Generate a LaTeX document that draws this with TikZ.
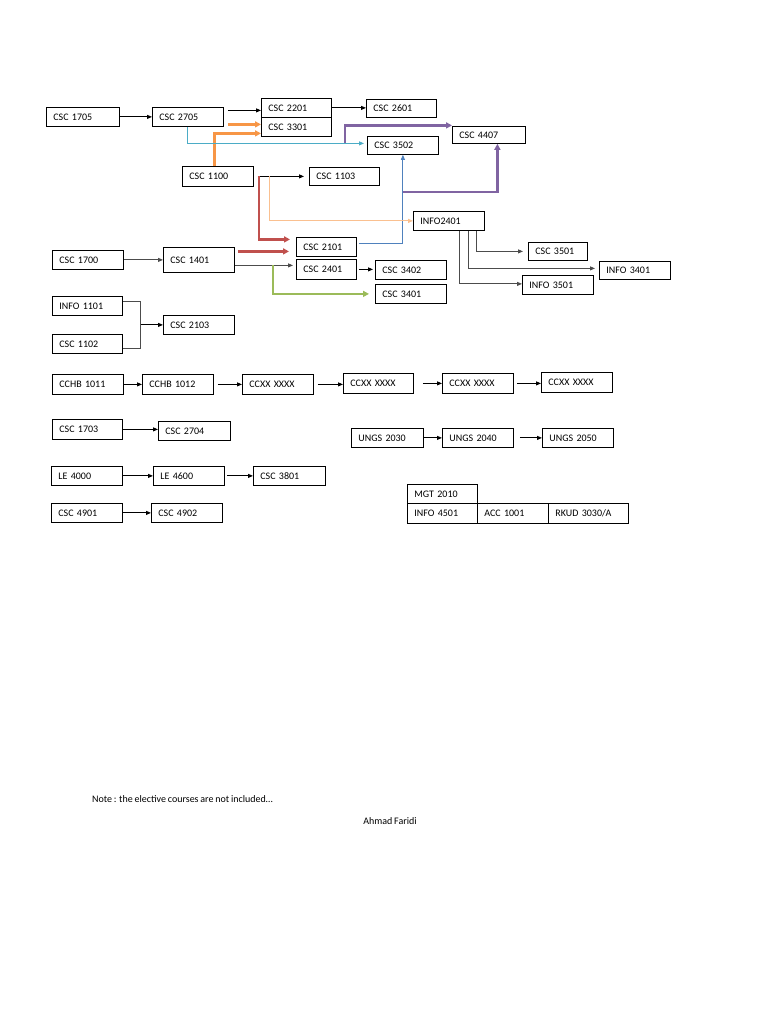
\documentclass[tikz,border=0pt]{standalone}
\usepackage{fontspec}
\setmainfont[WordSpace=0.8]{Carlito}
\usetikzlibrary{arrows.meta}
\definecolor{Orng}{HTML}{F79646}
\definecolor{Aqua}{HTML}{4BACC6}
\definecolor{Purp}{HTML}{8064A2}
\definecolor{Blu}{HTML}{4F81BD}
\definecolor{Rd}{HTML}{C0504D}
\definecolor{Peach}{HTML}{FAC090}
\definecolor{Grn}{HTML}{9BBB59}

\tikzset{
  course/.style={draw, line width=0.8pt, anchor=north west, inner xsep=7pt, inner ysep=0pt,
    minimum height=19pt, text width=57pt, font=\fontsize{10}{11}\selectfont},
  link/.style={line width=0.9pt, -{Triangle[length=5pt,width=4pt]}},
  glink/.style={link, gray!60!black},
  fat/.style={line width=2.4pt, -{Triangle[length=6pt,width=6pt]}},
}

\begin{document}
\begin{tikzpicture}[x=1pt,y=-1pt]
  \useasboundingbox (0,0) rectangle (768,1024);
  % courses
  \node[course,text width=59pt] (c1705) at (46,107) {CSC 1705};
  \node[course] (c2705) at (152,107) {CSC 2705};
  \node[course,text width=56pt] (c2201) at (261,98) {CSC 2201};
  \node[course,text width=56pt] (c3301) at (261,117) {CSC 3301};
  \node[course,text width=56pt,minimum height=18pt] (c2601) at (366,99) {CSC 2601};
  \node[course,text width=59pt,minimum height=17pt] (c4407) at (452,126) {CSC 4407};
  \node[course,minimum height=18pt] (c3502) at (367,136) {CSC 3502};
  \node[course,minimum height=20pt] (c1100) at (182,166) {CSC 1100};
  \node[course,text width=56pt,minimum height=18pt] (c1103) at (309,167) {CSC 1103};
  \node[course] (i2401) at (413,211) {INFO2401};
  \node[course,text width=46pt] (c2101) at (296,237) {CSC 2101};
  \node[course,text width=46pt,minimum height=20pt] (c2401) at (296,259) {CSC 2401};
  \node[course] (c3402) at (375,260) {CSC 3402};
  \node[course] (c3401) at (375,284) {CSC 3401};
  \node[course,minimum height=25pt] (c1401) at (163,247) {CSC 1401};
  \node[course] (c1700) at (52,250) {CSC 1700};
  \node[course,text width=56pt] (i1101) at (52,296) {INFO 1101};
  \node[course,text width=56pt] (c1102) at (52,334) {CSC 1102};
  \node[course] (c2103) at (163,315) {CSC 2103};
  \node[course,text width=45pt,minimum height=18pt] (c3501) at (528,242) {CSC 3501};
  \node[course,minimum height=18pt] (i3401) at (599,261) {INFO 3401};
  \node[course] (i3501) at (522,275) {INFO 3501};
  % core row
  \node[course,minimum height=20pt] (h1011) at (52,374) {CCHB 1011};
  \node[course,minimum height=20pt] (h1012) at (142,374) {CCHB 1012};
  \node[course,minimum height=20pt] (x1) at (242,374) {CCXX XXXX};
  \node[course,text width=56pt,minimum height=20pt] (x2) at (343,373) {CCXX XXXX};
  \node[course,minimum height=20pt] (x3) at (442,373) {CCXX XXXX};
  \node[course,minimum height=20pt] (x4) at (541,372) {CCXX XXXX};
  \node[course,text width=56pt,minimum height=20pt] (c1703) at (52,419) {CSC 1703};
  \node[course,text width=58pt] (c2704) at (158,421) {CSC 2704};
  \node[course,text width=58pt] (u2030) at (351,428) {UNGS 2030};
  \node[course] (u2040) at (442,428) {UNGS 2040};
  \node[course] (u2050) at (542,428) {UNGS 2050};
  \node[course] (le4000) at (51,466) {LE 4000};
  \node[course] (le4600) at (153,466) {LE 4600};
  \node[course,text width=58pt] (c3801) at (253,466) {CSC 3801};
  \node[course] (c4901) at (51,503) {CSC 4901};
  \node[course] (c4902) at (151,503) {CSC 4902};
  % table
  \node[course,text width=56pt] (m2010) at (407,484) {MGT 2010};
  \node[course,text width=56pt,minimum height=20pt] (i4501) at (407,503) {INFO 4501};
  \node[course,minimum height=20pt] (a1001) at (477,503) {ACC 1001};
  \node[course,text width=66pt,minimum height=20pt] (r3030) at (548,503) {RKUD 3030/A};

  % connectors, top part
  \draw[link] (c1705.east) -- (c2705.west);
  \draw[link] ([xshift=4pt,yshift=6.5pt]c2705.east) -- ([yshift=6.5pt]c2705.east -| c2201.west);
  \draw[fat,Orng] ([xshift=4pt,yshift=-7.5pt]c2705.east) -- ([yshift=-7.5pt]c2705.east -| c3301.west);
  \draw[fat,Orng] ([xshift=-3.5pt]c1100.north) |- ([yshift=-6.5pt]c3301.west);
  \draw[link] (c2201.east) -- (c2201.east -| c2601.west);
  \draw[link,Aqua,shorten >=3pt] (c2705.south) |- ([yshift=2pt]c3502.west);
  \coordinate (aquajoin) at (345,143);
  \coordinate (bluejoin) at (c3502.south |- 0,192);
  \draw[fat,Purp] (aquajoin) |- ([yshift=9.5pt]c4407.west);
  \draw[link,Blu] ([xshift=2pt,yshift=3.5pt]c2101.east) -| (c3502.south);
  \draw[fat,Purp] (bluejoin) -| ([xshift=8.5pt]c4407.south);
  \draw[link,shorten >=5pt] ([xshift=4pt]c1100.east) -- (c1103.west);
  \draw[fat,Rd,shorten >=6pt] ([xshift=5pt]c1100.east) |- ([yshift=7.5pt]c2101.west);
  \draw[link,Peach,line width=1.2pt] ([xshift=16pt]c1100.east) |- (i2401.west);
  \draw[fat,Rd,shorten <=3pt,shorten >=7pt] ([yshift=8.5pt]c1401.east) -- ([yshift=8.5pt]c1401.east -| c2101.west);
  \draw[glink,shorten >=3pt] ([yshift=-5.5pt]c1401.east) -- ([yshift=-5.5pt]c1401.east -| c2401.west);
  \draw[fat,Grn,shorten >=6pt] ([xshift=38pt,yshift=-5.5pt]c1401.east) |- (c3401.west);
  \draw[link,shorten <=2pt,shorten >=2pt] (c2401.east) -- (c2401.east -| c3402.west);
  \draw[glink,shorten >=5pt] ([xshift=27.5pt]i2401.south) |- (c3501.west);
  \draw[glink,shorten >=4pt] ([xshift=19.5pt]i2401.south) |- ([yshift=2pt]i3401.west);
  \draw[glink] ([xshift=10.5pt]i2401.south) |- ([yshift=1pt]i3501.west);
  \draw[glink] (c1700.east) -- (c1401.west);
  \draw[gray!60!black,line width=0.9pt] ([yshift=4.5pt]i1101.east) -| ([xshift=18pt,yshift=-4.5pt]c1102.east) -- ([yshift=-4.5pt]c1102.east);
  \draw[link] ([xshift=18pt]i1101.east |- c2103.west) -- (c2103.west);

  % connectors, lower part
  \draw[link] (h1011.east) -- (h1012.west);
  \draw[link,shorten <=4pt] (h1012.east) -- (x1.west);
  \draw[link,shorten <=4pt] (x1.east) -- (x1.east -| x2.west);
  \draw[link,shorten <=9pt] (x2.east) -- (x2.east -| x3.west);
  \draw[link,shorten <=3pt] (x3.east) -- (x3.east -| x4.west);
  \draw[link] (c1703.east) -- (c1703.east -| c2704.west);
  \draw[link] (u2030.east) -- (u2040.west);
  \draw[link,shorten <=6pt] (u2040.east) -- (u2050.west);
  \draw[link] (le4000.east) -- (le4600.west);
  \draw[link,shorten <=2pt] (le4600.east) -- (c3801.west);
  \draw[link] (c4901.east) -- (c4902.west);

  % remarks
  \node[anchor=west,inner sep=0pt,font=\fontsize{10}{11}\selectfont] (note) at (92,799) {Note : the elective courses are not included\dots};
  \node[inner sep=0pt,font=\fontsize{10}{11}\selectfont] (author) at (390,821) {Ahmad Faridi};
\end{tikzpicture}
\end{document}
